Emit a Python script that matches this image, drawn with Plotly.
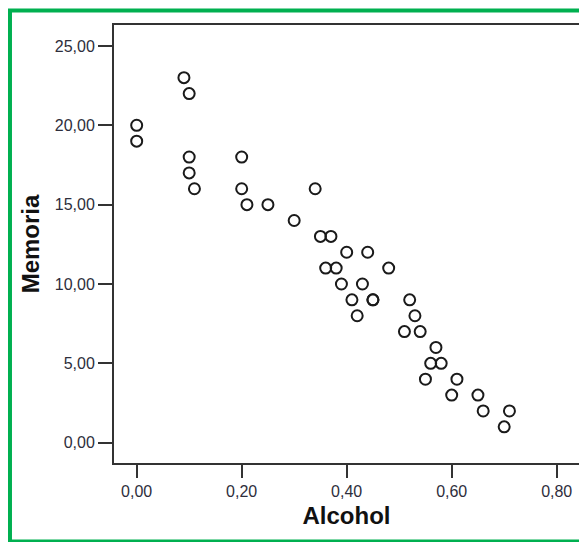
import plotly.graph_objects as go

alcohol = [0.00, 0.00, 0.09, 0.10, 0.10, 0.10, 0.11, 0.20, 0.20, 0.21, 0.25, 0.30,
           0.34, 0.35, 0.37, 0.36, 0.38, 0.48, 0.40, 0.44, 0.39, 0.43, 0.41, 0.45,
           0.45, 0.52, 0.42, 0.53, 0.51, 0.54, 0.57, 0.56, 0.58, 0.55, 0.61, 0.60,
           0.65, 0.66, 0.71, 0.70]
memoria = [20, 19, 23, 22, 18, 17, 16, 18, 16, 15, 15, 14,
           16, 13, 13, 11, 11, 11, 12, 12, 10, 10, 9, 9,
           9, 9, 8, 8, 7, 7, 6, 5, 5, 4, 4, 3,
           3, 2, 2, 1]

x_tickvals = [0.0, 0.2, 0.4, 0.6, 0.8]
x_ticktext = ["0,00", "0,20", "0,40", "0,60", "0,80"]
y_tickvals = [0, 5, 10, 15, 20, 25]
y_ticktext = ["0,00", "5,00", "10,00", "15,00", "20,00", "25,00"]

FONT = "Arial, 'Liberation Sans', sans-serif"
TICKCOL = "#2e2e3c"
FRAME = "#333333"

fig = go.Figure()
fig.add_trace(go.Scatter(
    x=alcohol, y=memoria, mode="markers",
    marker=dict(symbol="circle-open", size=11, color="#1a1a1a",
                line=dict(width=2, color="#1a1a1a")),
    showlegend=False, hoverinfo="x+y",
))

fig.update_layout(
    width=587, height=542,
    margin=dict(l=106, r=16, t=17, b=87),
    paper_bgcolor="white", plot_bgcolor="white",
    font=dict(family=FONT, color=TICKCOL),
    xaxis=dict(
        range=[-0.0432, 0.8425], tickvals=x_tickvals, ticktext=x_ticktext,
        showgrid=False, zeroline=False,
        showline=True, mirror=True, linecolor=FRAME, linewidth=2,
        ticks="outside", ticklen=13, tickwidth=2, tickcolor=FRAME,
        tickfont=dict(size=16, color=TICKCOL, family=FONT),
        title=dict(text="<b>Alcohol</b>", font=dict(size=24, color="#111111", family=FONT),
                   standoff=8),
    ),
    yaxis=dict(
        range=[-1.28, 26.32], tickvals=y_tickvals, ticktext=y_ticktext,
        showgrid=False, zeroline=False,
        showline=True, mirror=True, linecolor=FRAME, linewidth=2,
        ticks="outside", ticklen=14, tickwidth=2, tickcolor=FRAME,
        tickfont=dict(size=16, color=TICKCOL, family=FONT),
        title=dict(text="<b>Memoria</b>", font=dict(size=24, color="#111111", family=FONT),
                   standoff=8),
    ),
    shapes=[dict(
        type="rect", xref="paper", yref="paper",
        x0=-0.2237, x1=1.06, y0=-0.179, y1=1.0331,
        line=dict(color="#00b050", width=4), fillcolor="rgba(0,0,0,0)",
        layer="above",
    )],
)

fig.write_html("out.html")
